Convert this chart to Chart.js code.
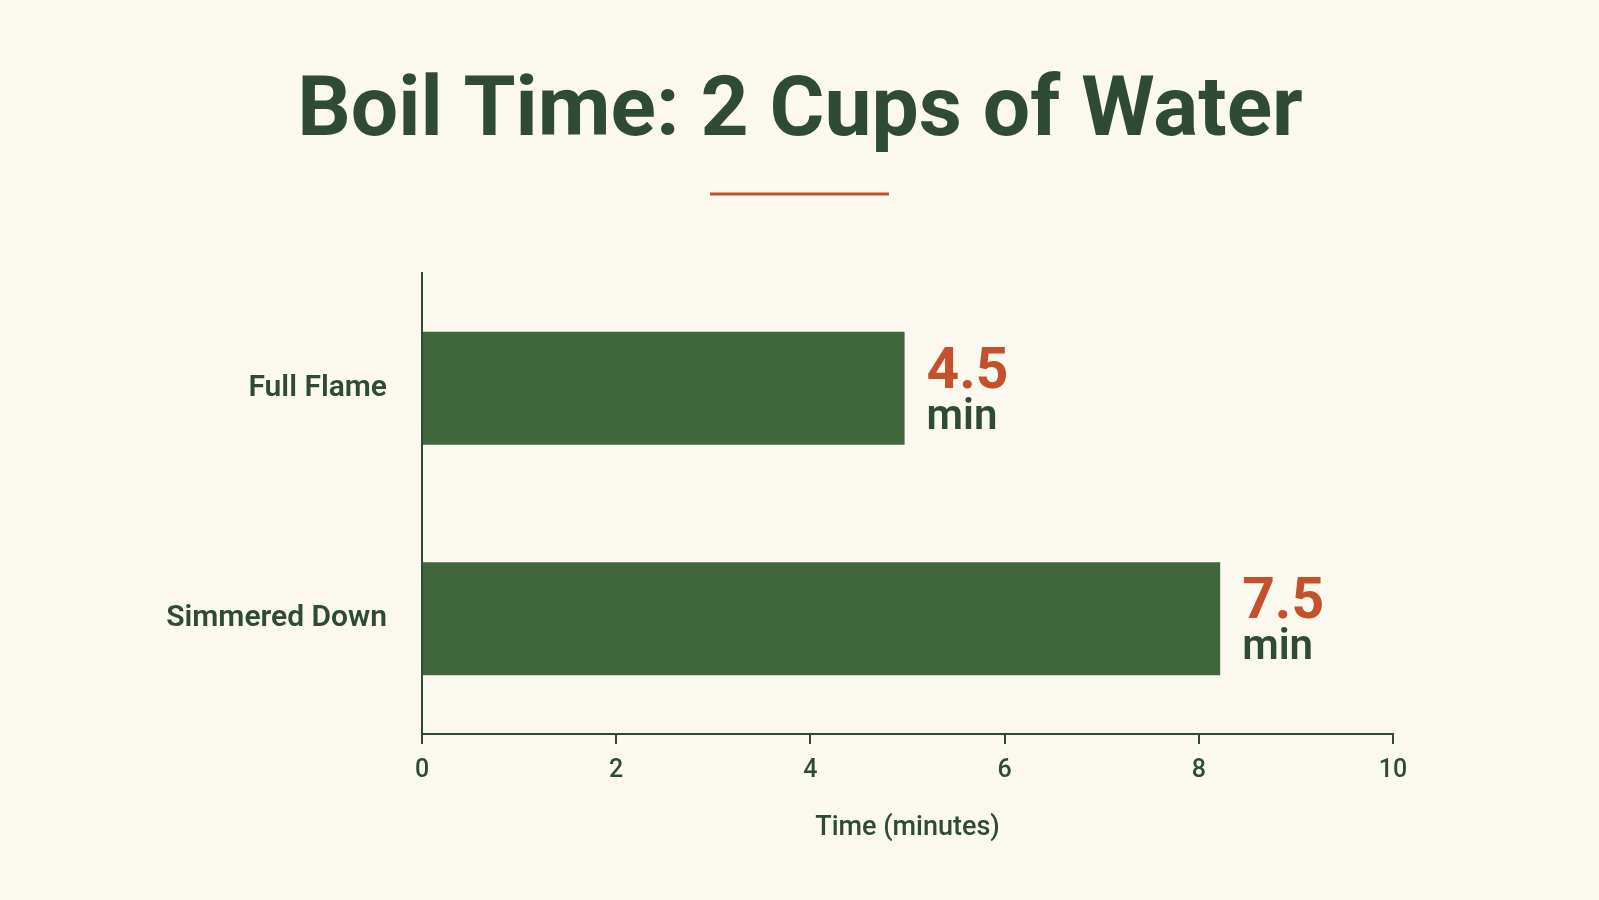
<!DOCTYPE html>
<html>
<head>
<meta charset="utf-8">
<script src="https://cdn.jsdelivr.net/npm/chart.js@4/dist/chart.umd.min.js"></script>
<style>
  html, body { margin: 0; padding: 0; background: #fbf8f0; }
  #wrap { width: 1599px; height: 900px; position: relative; }
</style>
</head>
<body>
<div id="wrap"><canvas id="c"></canvas></div>
<script>
const categories = ['Full Flame', 'Simmered Down']
const barValues = [4.97, 8.22]
const valueLabels = ['4.5', '7.5']
const unitLabel = 'min'
const xTicks = [0, 2, 4, 6, 8, 10]

const dark = '#2f4a35'
const red = '#c4502c'
const barColor = '#40663b'

// title, underline and the value labels next to each bar
const decorations = {
  id: 'decorations',
  afterDraw(chart) {
    const ctx = chart.ctx
    ctx.save()
    ctx.fillStyle = dark
    ctx.textAlign = 'center'
    ctx.textBaseline = 'middle'
    ctx.font = "bold 84px Roboto, sans-serif"
    ctx.fillText('Boil Time: 2 Cups of Water', 800, 114)
    ctx.strokeStyle = red
    ctx.lineWidth = 3
    ctx.beginPath()
    ctx.moveTo(710, 194)
    ctx.lineTo(889, 194)
    ctx.stroke()

    const meta = chart.getDatasetMeta(0)
    meta.data.forEach((bar, i) => {
      const x = bar.x + 22
      ctx.textAlign = 'left'
      ctx.fillStyle = red
      ctx.font = "bold 57px Roboto, sans-serif"
      ctx.fillText(valueLabels[i], x, bar.y - 15)
      ctx.fillStyle = dark
      ctx.font = "600 42px Roboto, sans-serif"
      ctx.fillText(unitLabel, x, bar.y + 30)
    })
    ctx.restore()
  }
}

new Chart(document.getElementById('c'), {
  type: 'bar',
  data: {
    labels: categories,
    datasets: [{
      data: barValues,
      backgroundColor: barColor,
      categoryPercentage: 1,
      barPercentage: 0.49
    }]
  },
  options: {
    indexAxis: 'y',
    responsive: true,
    maintainAspectRatio: false,
    animation: false,
    layout: { padding: { top: 273, right: 206, left: 0, bottom: 52 } },
    plugins: { legend: { display: false }, tooltip: { enabled: false } },
    scales: {
      x: {
        min: 0,
        max: 10,
        afterBuildTicks(scale) { scale.ticks = xTicks.map(v => ({ value: v })) },
        afterFit(scale) { scale.height = 114 },
        grid: { drawOnChartArea: false, tickLength: 10, color: dark, lineWidth: 2 },
        border: { color: dark, width: 2 },
        ticks: { color: dark, padding: 12, font: { family: 'Roboto', size: 25, weight: '500' } },
        title: {
          display: true,
          text: 'Time (minutes)',
          color: dark,
          padding: { top: 22 },
          font: { family: 'Roboto', size: 27, weight: '500' }
        }
      },
      y: {
        afterFit(scale) { scale.width = 422 },
        grid: { display: false },
        border: { color: dark, width: 2 },
        ticks: { color: dark, padding: 27, font: { family: 'Roboto', size: 30, weight: '600' } }
      }
    }
  },
  plugins: [decorations]
})
</script>
</body>
</html>
